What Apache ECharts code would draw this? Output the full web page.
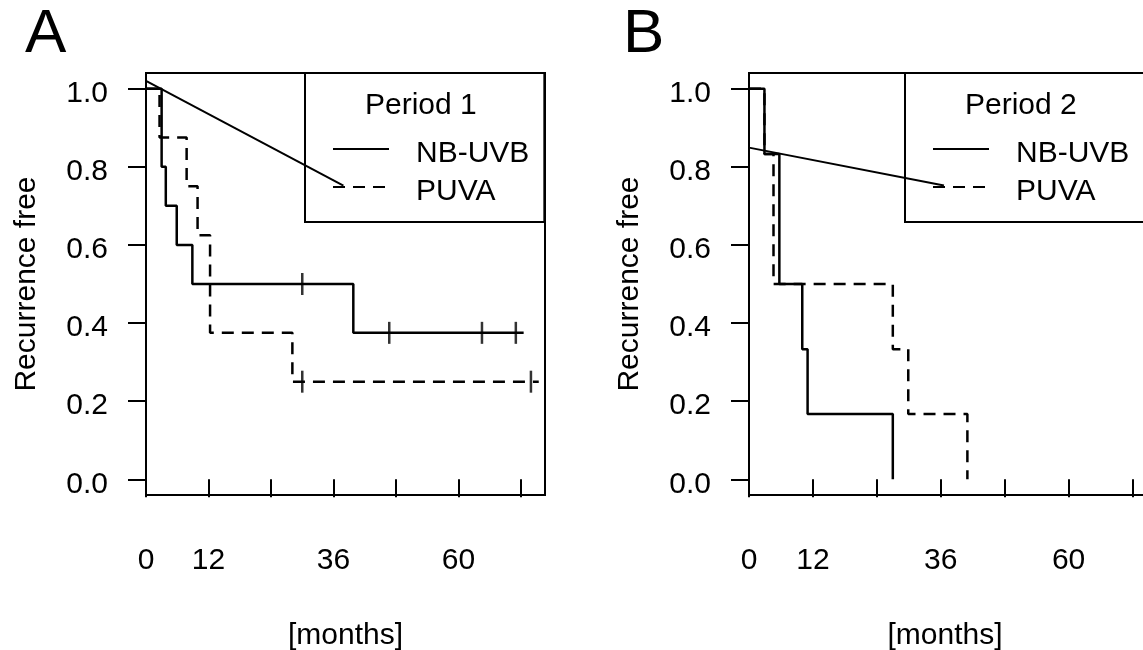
<!DOCTYPE html>
<html>
<head>
<meta charset="utf-8">
<script src="https://cdn.jsdelivr.net/npm/echarts@6/dist/echarts.min.js"></script>
<style>
html,body{margin:0;padding:0;background:#fff;}
#chart{width:1143px;height:650px;}
</style>
</head>
<body>
<div id="chart"></div>
<script>
// ---- tick labels ----
const monthTicks = [0, 12, 24, 36, 48, 60, 72];
const monthLabels = [0, 12, 36, 60];
const survTicks = [0, 0.2, 0.4, 0.6, 0.8, 1.0];
const groupNames = ['NB-UVB', 'PUVA'];
const panelTitles = ['Period 1', 'Period 2'];
const panelLetters = ['A', 'B'];

// ---- Period 1 (panel A) ----
const p1NbTimes = [0, 3.0, 3.8, 5.9, 8.9, 39.8, 72.5];
const p1NbSurv  = [1, 0.8, 0.7, 0.6, 0.5, 0.375, 0.375];
const p1NbCensTimes = [30.0, 46.7, 64.5, 71.0];
const p1NbCensSurv  = [0.5, 0.375, 0.375, 0.375];
const p1PuTimes = [0, 2.6, 7.8, 9.9, 12.3, 28.1, 75.4];
const p1PuSurv  = [1, 0.875, 0.75, 0.625, 0.375, 0.25, 0.25];
const p1PuCensTimes = [30.0, 73.9];
const p1PuCensSurv  = [0.25, 0.25];
const p1StrayX = [0, 37.9];
const p1StrayY = [1.02, 0.752];

// ---- Period 2 (panel B) ----
const p2NbTimes = [0, 2.9, 5.7, 10.0, 11.0, 27.0];
const p2NbSurv  = [1, 0.833, 0.5, 0.333, 0.167, 0];
const p2PuTimes = [0, 2.9, 4.6, 27.0, 29.9, 41.0];
const p2PuSurv  = [1, 0.833, 0.5, 0.333, 0.167, 0];
const p2StrayX = [0, 36.6];
const p2StrayY = [0.849, 0.752];

const FONT = "'Liberation Sans', Arial, sans-serif";
const zip = (a, b) => a.map((v, i) => [v, b[i]]);
// small invisible first line pushes the real text a few pixels down
const SPACER = {fontSize: 2, lineHeight: 10};

function stepSeries(name, g, xs, ys, dashed) {
  return {
    name: name, type: 'line', xAxisIndex: g, yAxisIndex: g,
    data: zip(xs, ys), step: 'end', symbol: 'none', silent: true,
    lineStyle: {color: '#000', width: 2.5, type: dashed ? [12, 8] : 'solid'},
    itemStyle: {color: '#000'}
  };
}
function censSeries(name, g, xs, ys) {
  return {
    name: name, type: 'scatter', xAxisIndex: g, yAxisIndex: g,
    data: zip(xs, ys), symbol: 'rect', symbolSize: [2.5, 22], silent: true,
    itemStyle: {color: '#000'}
  };
}
function strayLine(g, xs, ys) {
  return {
    name: 'stray', type: 'line', xAxisIndex: g, yAxisIndex: g,
    data: zip(xs, ys), symbol: 'none', silent: true,
    lineStyle: {color: '#000', width: 2}
  };
}
function xAxisDef(g, namePadRight) {
  return {
    gridIndex: g, type: 'value', min: 0, max: 76.6,
    axisLine: {show: false},
    axisTick: {show: true, customValues: monthTicks, length: 18, lineStyle: {color: '#000', width: 2}},
    axisLabel: {customValues: monthLabels, margin: 51, fontSize: 30, color: '#000', fontFamily: FONT},
    splitLine: {show: false},
    name: '[months]', nameLocation: 'middle', nameGap: 126,
    nameTextStyle: {fontSize: 30, color: '#000', fontFamily: FONT, padding: [0, namePadRight, 0, 0]}
  };
}
function yAxisDef(g) {
  return {
    gridIndex: g, type: 'value', min: -0.04, max: 1.04,
    axisLine: {show: false},
    axisTick: {show: true, customValues: survTicks, length: 18, lineStyle: {color: '#000', width: 2}},
    axisLabel: {customValues: survTicks, margin: 38, fontSize: 30, color: '#000', fontFamily: FONT,
                formatter: v => '{s| }\n{v|' + v.toFixed(1) + '}',
                rich: {s: SPACER, v: {fontSize: 30, lineHeight: 30, color: '#000', fontFamily: FONT}}},
    splitLine: {show: false},
    name: 'Recurrence free', nameLocation: 'middle', nameGap: 104, nameRotate: 90,
    nameTextStyle: {fontSize: 30, color: '#000', fontFamily: FONT}
  };
}
function legendDef(left, rightPad) {
  return {
    data: groupNames, orient: 'vertical', left: left, top: 73,
    padding: [56, rightPad, 15, 27], itemGap: -2, itemWidth: 56, itemHeight: 14,
    borderColor: '#000', borderWidth: 2, borderRadius: 0, selectedMode: false,
    itemStyle: {opacity: 0},
    formatter: name => '{s| }\n{t|' + name + '}',
    textStyle: {fontSize: 30, lineHeight: 30, color: '#000', fontFamily: FONT, padding: [0, 0, 0, 22],
                rich: {s: SPACER, t: {fontSize: 30, lineHeight: 30, color: '#000', fontFamily: FONT}}}
  };
}

const chart = echarts.init(document.getElementById('chart'), null, {renderer: 'canvas'});
chart.setOption({
  animation: false,
  backgroundColor: '#fff',
  textStyle: {fontFamily: FONT},
  title: [
    {text: panelLetters[0], left: 25, top: 4, padding: 0, textStyle: {fontSize: 62, lineHeight: 62, fontWeight: 'normal', color: '#000', fontFamily: FONT}},
    {text: panelLetters[1], left: 623, top: 4, padding: 0, textStyle: {fontSize: 62, lineHeight: 62, fontWeight: 'normal', color: '#000', fontFamily: FONT}},
    {text: panelTitles[0], left: 365, top: 91, padding: 0, textStyle: {fontSize: 30, lineHeight: 30, fontWeight: 'normal', color: '#000', fontFamily: FONT}},
    {text: panelTitles[1], left: 965, top: 91, padding: 0, textStyle: {fontSize: 30, lineHeight: 30, fontWeight: 'normal', color: '#000', fontFamily: FONT}}
  ],
  legend: [legendDef(305, 15), legendDef(905, 60)],
  grid: [
    {left: 146, top: 73, width: 399, height: 422, outerBoundsMode: 'none', containLabel: false,
     show: true, borderColor: '#000', borderWidth: 2, backgroundColor: 'transparent'},
    {left: 749, top: 73, width: 408, height: 422, outerBoundsMode: 'none', containLabel: false,
     show: true, borderColor: '#000', borderWidth: 2, backgroundColor: 'transparent'}
  ],
  xAxis: [xAxisDef(0, 0), xAxisDef(1, 16)],
  yAxis: [yAxisDef(0), yAxisDef(1)],
  series: [
    stepSeries(groupNames[0], 0, p1NbTimes, p1NbSurv, false),
    stepSeries(groupNames[1], 0, p1PuTimes, p1PuSurv, true),
    censSeries('NB-UVB censored', 0, p1NbCensTimes, p1NbCensSurv),
    censSeries('PUVA censored', 0, p1PuCensTimes, p1PuCensSurv),
    strayLine(0, p1StrayX, p1StrayY),
    stepSeries(groupNames[0], 1, p2NbTimes, p2NbSurv, false),
    stepSeries(groupNames[1], 1, p2PuTimes, p2PuSurv, true),
    strayLine(1, p2StrayX, p2StrayY)
  ]
});
</script>
</body>
</html>
